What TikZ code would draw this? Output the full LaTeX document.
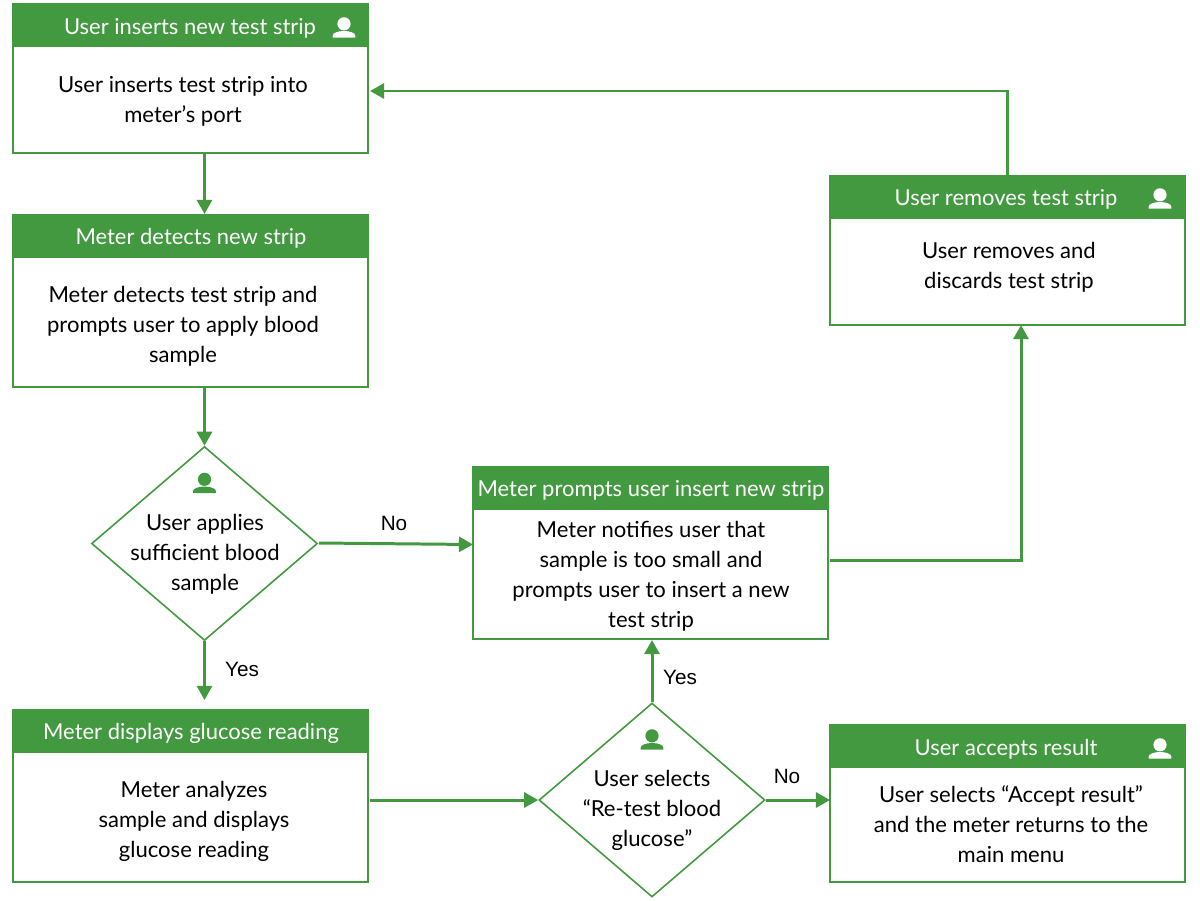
\documentclass[tikz,border=0pt]{standalone}
\usepackage{fontspec}
\setmainfont{Lato}
\newfontfamily\arialf{Liberation Sans}
\usetikzlibrary{arrows.meta,shapes.geometric}
\definecolor{gr}{HTML}{43993F}
\tikzset{x=0.02cm,y=-0.02cm,
 bodybox/.style={draw=gr,line width=0.9pt,fill=white,minimum width=7.1cm,anchor=north west,inner sep=0pt,xshift=-0.012cm},
 headbox/.style={fill=gr,minimum width=7.12cm,minimum height=0.88cm,anchor=north west,inner sep=0pt,xshift=-0.012cm},
 headtext/.style={text=white,yshift=-0.04cm,font=\fontsize{12.5}{15}\selectfont},
 dec/.style={diamond,draw=gr,line width=0.9pt,fill=white,minimum width=4.52cm,minimum height=3.88cm,inner sep=0pt,aspect=1.16},
 dectext/.style={align=center,yshift=-0.03cm,font=\fontsize{12.55}{17}\selectfont},
 conn/.style={draw=gr,line width=1.7pt,-{Triangle[length=8pt,width=8.5pt]}},
 lab/.style={font=\arialf\fontsize{11.8}{14}\selectfont}
}
\newcommand{\personicon}[2]{%
\begin{scope}[shift={(#1)}]
\fill[#2] (0,-2.7) circle (6.6*0.02cm);
\fill[#2] (-11.3,11) -- (-11.3,9) .. controls (-11.3,6.5) and (-6,4.5) .. (0,4.5) .. controls (6,4.5) and (11.3,6.5) .. (11.3,9) -- (11.3,11) -- cycle;
\end{scope}}
\begin{document}
\begin{tikzpicture}
\useasboundingbox (0,0) rectangle (1200,900);
\fill[white] (0,0) rectangle (1200,900);
% boxes
\node[bodybox,minimum height=2.98cm] (a) at (13,3) {};
\node[headbox] (ah) at (13,3) {};
\node[headtext] (aht) at (190,26) {User inserts new test strip};
\node[dectext] (at) at (183,99.5) {User inserts test strip into\\meter’s port};
\coordinate (ai) at (344,26.5);
\personicon{ai}{white}

\node[bodybox,minimum height=3.44cm] (b) at (13,214) {};
\node[headbox] (bh) at (13,214) {};
\node[headtext] (bht) at (191,236) {Meter detects new strip};
\node[dectext] (bt) at (183,325) {Meter detects test strip and\\prompts user to apply blood\\sample};

\node[dec] (d1) at (204.5,543.5) {};
\node[dectext] (d1t) at (205,553) {User applies\\sufficient blood\\sample};
\coordinate (d1i) at (204.5,482);
\personicon{d1i}{gr}

\node[bodybox,minimum height=3.44cm] (c) at (13,709) {};
\node[headbox] (ch) at (13,709) {};
\node[headtext] (cht) at (191,731) {Meter displays glucose reading};
\node[dectext] (ct) at (194,820) {Meter analyzes\\sample and displays\\glucose reading};

\node[dec] (d2) at (652,800) {};
\node[dectext] (d2t) at (652,809) {User selects\\“Re-test blood\\glucose”};
\coordinate (d2i) at (652,738.5);
\personicon{d2i}{gr}

\node[bodybox,minimum height=3.44cm] (e) at (473,466) {};
\node[headbox] (eh) at (473,466) {};
\node[headtext] (eht) at (651,488) {Meter prompts user insert new strip};
\node[dectext] (et) at (651,575) {Meter notifies user that\\sample is too small and\\prompts user to insert a new\\test strip};

\node[bodybox,minimum height=2.98cm] (f) at (830,175) {};
\node[headbox] (fh) at (830,175) {};
\node[headtext] (fht) at (1006,197) {User removes test strip};
\node[dectext] (ft) at (1009,266) {User removes and\\discards test strip};
\coordinate (fi) at (1160,197.5);
\personicon{fi}{white}

\node[bodybox,minimum height=3.14cm] (g) at (830,724) {};
\node[headbox] (gh) at (830,724) {};
\node[headtext] (ght) at (1006,747) {User accepts result};
\node[dectext] (gt) at (1011,823) {User selects “Accept result”\\and the meter returns to the\\main menu};
\coordinate (gi) at (1160,747.5);
\personicon{gi}{white}

% connectors
\coordinate (a1) at (204.5,153); \coordinate (b1) at (204.5,214);
\draw[conn] (a1) -- (b1);
\coordinate (b2) at (204.5,387);
\draw[conn] (b2) -- (d1.north);
\coordinate (c1) at (204.5,700);
\draw[conn] (d1.south) -- (c1);
\coordinate (d1e) at (319,543); \coordinate (e1) at (473,544.5);
\draw[conn] (d1e) -- (e1);
\coordinate (c2) at (370,800);
\draw[conn] (c2) -- (d2.west);
\coordinate (e2) at (652,640);
\draw[conn] (d2.north) -- (e2);
\coordinate (g1) at (830,800);
\draw[conn] (d2.east) -- (g1);
\coordinate (e3) at (830,560); \coordinate (e4) at (1021,560); \coordinate (f1) at (1021,325);
\draw[conn] (e3) -- (e4) -- (f1);
\coordinate (f2) at (1007,175); \coordinate (f3) at (1007,91); \coordinate (a2) at (370,91);
\draw[conn] (f2) -- (f3) -- (a2);

\node[lab] (ln) at (394,523) {No};
\node[lab] (ly) at (242,669) {Yes};
\node[lab] (ly2) at (680,677) {Yes};
\node[lab] (ln2) at (787,776) {No};
\end{tikzpicture}
\end{document}
